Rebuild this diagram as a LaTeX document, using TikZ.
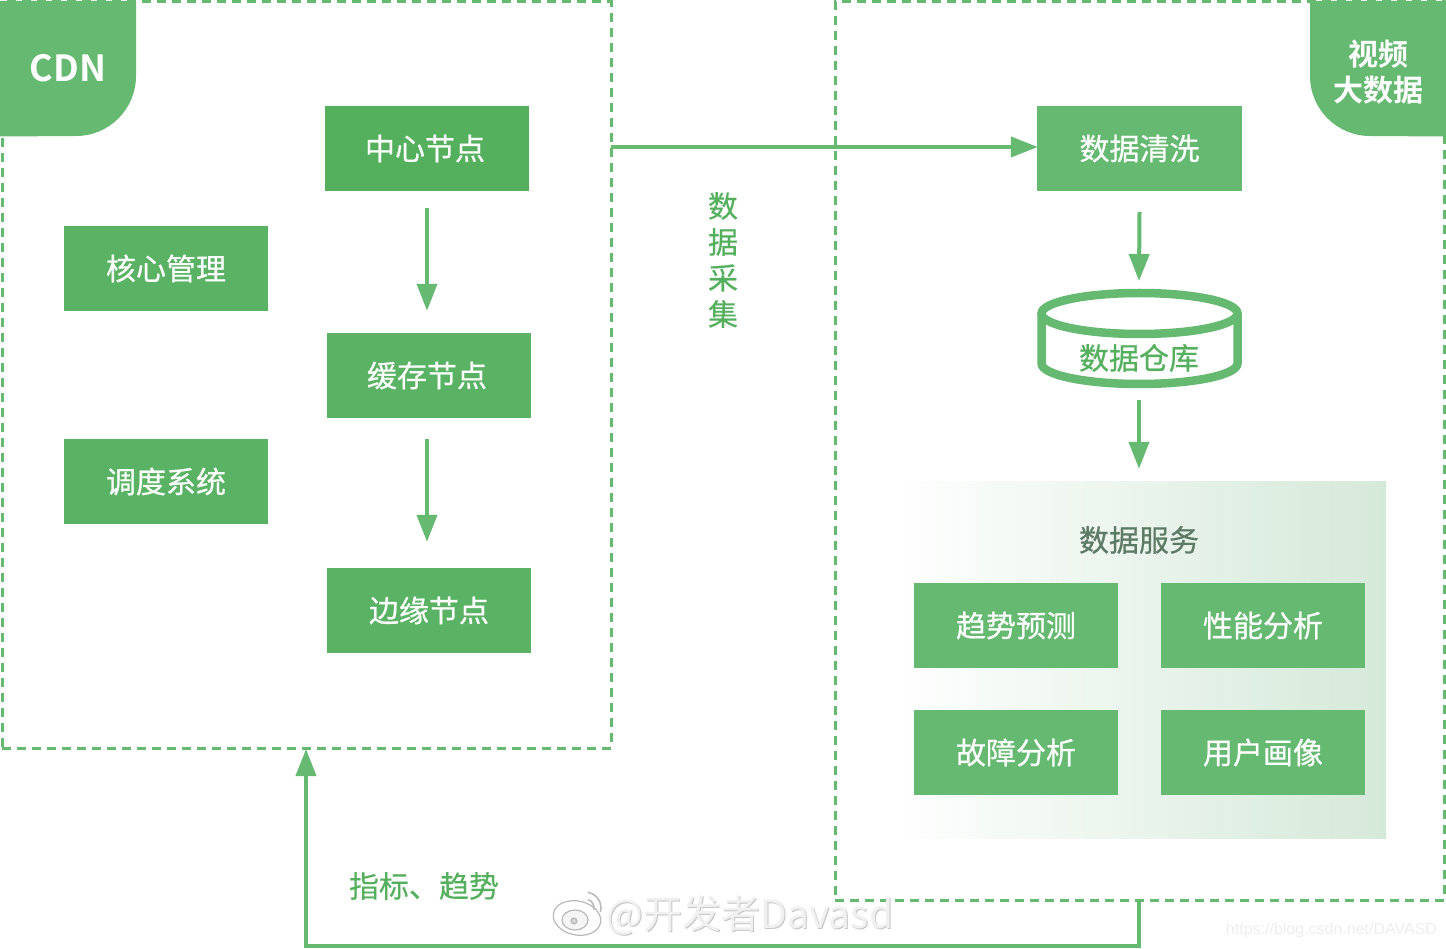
\documentclass[tikz,border=0pt]{standalone}
\usepackage{fontspec}
\usetikzlibrary{arrows.meta}
\setmainfont{Noto Sans CJK SC}[BoldFont={Noto Sans CJK SC Bold}]
\newfontfamily\cjkmed{Noto Sans CJK SC}[FakeBold=0.6]
\newfontfamily\cjklab{Noto Sans CJK SC}[FakeBold=0.3]
\newfontfamily\urlfont{Liberation Sans}
\definecolor{gA}{HTML}{66B971}
\definecolor{gB}{HTML}{55B05E}
\definecolor{gP}{HTML}{D5E9D9}
\definecolor{gT}{HTML}{5D7A65}
\tikzset{
  x=1pt,y=-1pt,
  stepbox/.style={fill=gA,draw=none,inner sep=0pt,minimum width=204pt,minimum height=85pt},
  boxtext/.style={inner sep=0pt,text=white,font=\cjkmed\fontsize{30}{32}\selectfont},
  frame/.style={draw=gA,line width=3pt,dash pattern=on 9pt off 6pt,inner sep=0pt},
  arr/.style={draw=gA,line width=4pt,-{Triangle[length=27pt,width=20pt]}},
  lab/.style={text=gB,inner sep=0pt,font=\cjklab\fontsize{30}{32}\selectfont},
  badge/.style={fill=gA,draw=none},
  badgetext/.style={text=white,inner sep=0pt,font=\bfseries\fontsize{30}{32}\selectfont},
}
\begin{document}
\begin{tikzpicture}
\useasboundingbox (0,0) rectangle (1446,949);
% frames
\node[frame,minimum width=609pt,minimum height=746pt] (cdnf) at (306.5,375) {};
\node[frame,minimum width=609pt,minimum height=898pt] (vidf) at (1139.5,451) {};
% badges
\fill[badge] (0,1) -- (136,1) -- (136,76) arc[start angle=0,end angle=90,radius=60] -- (0,136.5) -- cycle;
\fill[badge] (1446,1) -- (1310,1) -- (1310,76) arc[start angle=180,end angle=90,radius=60] -- (1446,136.5) -- cycle;
\node[badgetext,font=\bfseries\fontsize{36}{38}\selectfont] (cdnt) at (68,68.5) {CDN};
\node[badgetext] (vid1) at (1378,54) {视频};
\node[badgetext] (vid2) at (1378,90) {大数据};
% panel
\node[left color=gP!3,right color=gP,draw=none,inner sep=0pt,minimum width=481pt,minimum height=357pt] (panel) at (1145.5,659.5) {};
% boxes
\node[stepbox,fill=gB] (center) at (427,148.5) {};
\node[boxtext] at (425,148.5) {中心节点};
\node[stepbox,fill=gB!70!gA] (cache) at (429,375.5) {};
\node[boxtext] at (427,375.5) {缓存节点};
\node[stepbox,fill=gB!70!gA] (edge) at (429,610.5) {};
\node[boxtext] at (429,610.5) {边缘节点};
\node[stepbox,fill=gB!70!gA] (core) at (166,268.5) {};
\node[boxtext] at (166,268.5) {核心管理};
\node[stepbox,fill=gB!70!gA] (sched) at (166,481.5) {};
\node[boxtext] at (166,481.5) {调度系统};
\node[stepbox,minimum width=205pt] (wash) at (1139.5,148.5) {};
\node[boxtext] at (1139.5,148.5) {数据清洗};
\node[stepbox] (trend) at (1016,625.5) {};
\node[boxtext] at (1016,625.5) {趋势预测};
\node[stepbox] (perf) at (1263,625.5) {};
\node[boxtext] at (1263,625.5) {性能分析};
\node[stepbox] (fault) at (1016,752.5) {};
\node[boxtext] at (1016,752.5) {故障分析};
\node[stepbox] (user) at (1263,752.5) {};
\node[boxtext] at (1263,752.5) {用户画像};
\node[inner sep=0pt,text=gT,font=\cjkmed\fontsize{30}{32}\selectfont] (svc) at (1139,540) {数据服务};
% database
\draw[draw=gA,line width=8.5pt] (1139.5,313.5) ellipse[x radius=98,y radius=20.5];
\draw[draw=gA,line width=8.5pt] (1041.5,313.5) -- (1041.5,363.5) arc[x radius=98,y radius=20.5,start angle=180,end angle=0] -- (1237.5,313.5);
\node[inner sep=0pt,text=gB,font=\cjkmed\fontsize{30}{32}\selectfont] (dbt) at (1139,358) {数据仓库};
\coordinate (dbtop) at (1139,289);
\coordinate (dbbot) at (1139,388);
% labels
\node[lab] (c1) at (723,206) {数};
\node[lab] (c2) at (723,242) {据};
\node[lab] (c3) at (723,278) {采};
\node[lab] (c4) at (723,314) {集};
\node[lab] (metric) at (424,886) {指标、趋势};
% connectors
\coordinate (hstart) at (611,147);
\draw[arr] (hstart) -- ([xshift=1pt]wash.west |- hstart);
\draw[arr] ([yshift=-17pt]center.south) -- ([yshift=22pt,xshift=-2pt]cache.north);
\draw[arr] ([yshift=-21pt,xshift=-2pt]cache.south) -- ([yshift=26pt,xshift=-2pt]edge.north);
\draw[arr] ([yshift=-21pt]wash.south) -- ([yshift=8pt]dbtop);
\draw[arr] ([yshift=-12pt]dbbot) -- ([yshift=12pt,xshift=-6.5pt]panel.north);
\coordinate (fbs) at (1139,900);
\coordinate (fbe) at (306,749);
\draw[arr] (fbs) -- (1139,946) -- (306,946) -- (fbe);
% watermark
\begin{scope}[draw=gray!55,line width=1.2pt]
  \draw[fill=white,rotate around={-12:(577,918)}] (577,918) ellipse[x radius=24,y radius=17];
  \draw[fill=gray!8] (575,920) ellipse[x radius=13,y radius=10];
  \draw[fill=gray!35] (574,921) circle[radius=3];
  \draw[line width=1.6pt] (585,908) ++(-70:9) arc[start angle=-70,end angle=10,radius=9];
  \draw[line width=1.6pt] (585,908) ++(-80:16) arc[start angle=-80,end angle=15,radius=16];
\end{scope}
\node[inner sep=0pt,text=gray!45,font=\fontsize{39}{42}\selectfont] (wm0) at (751,916) {@开发者Davasd};
\node[inner sep=0pt,text=gray!12,font=\fontsize{39}{42}\selectfont] (wm) at (750,915) {@开发者Davasd};
\node[inner sep=0pt,text=gray!14,font=\urlfont\fontsize{16}{20}\selectfont] (url) at (1331.5,930) {https://blog.csdn.net/DAVASD};
\end{tikzpicture}
\end{document}
